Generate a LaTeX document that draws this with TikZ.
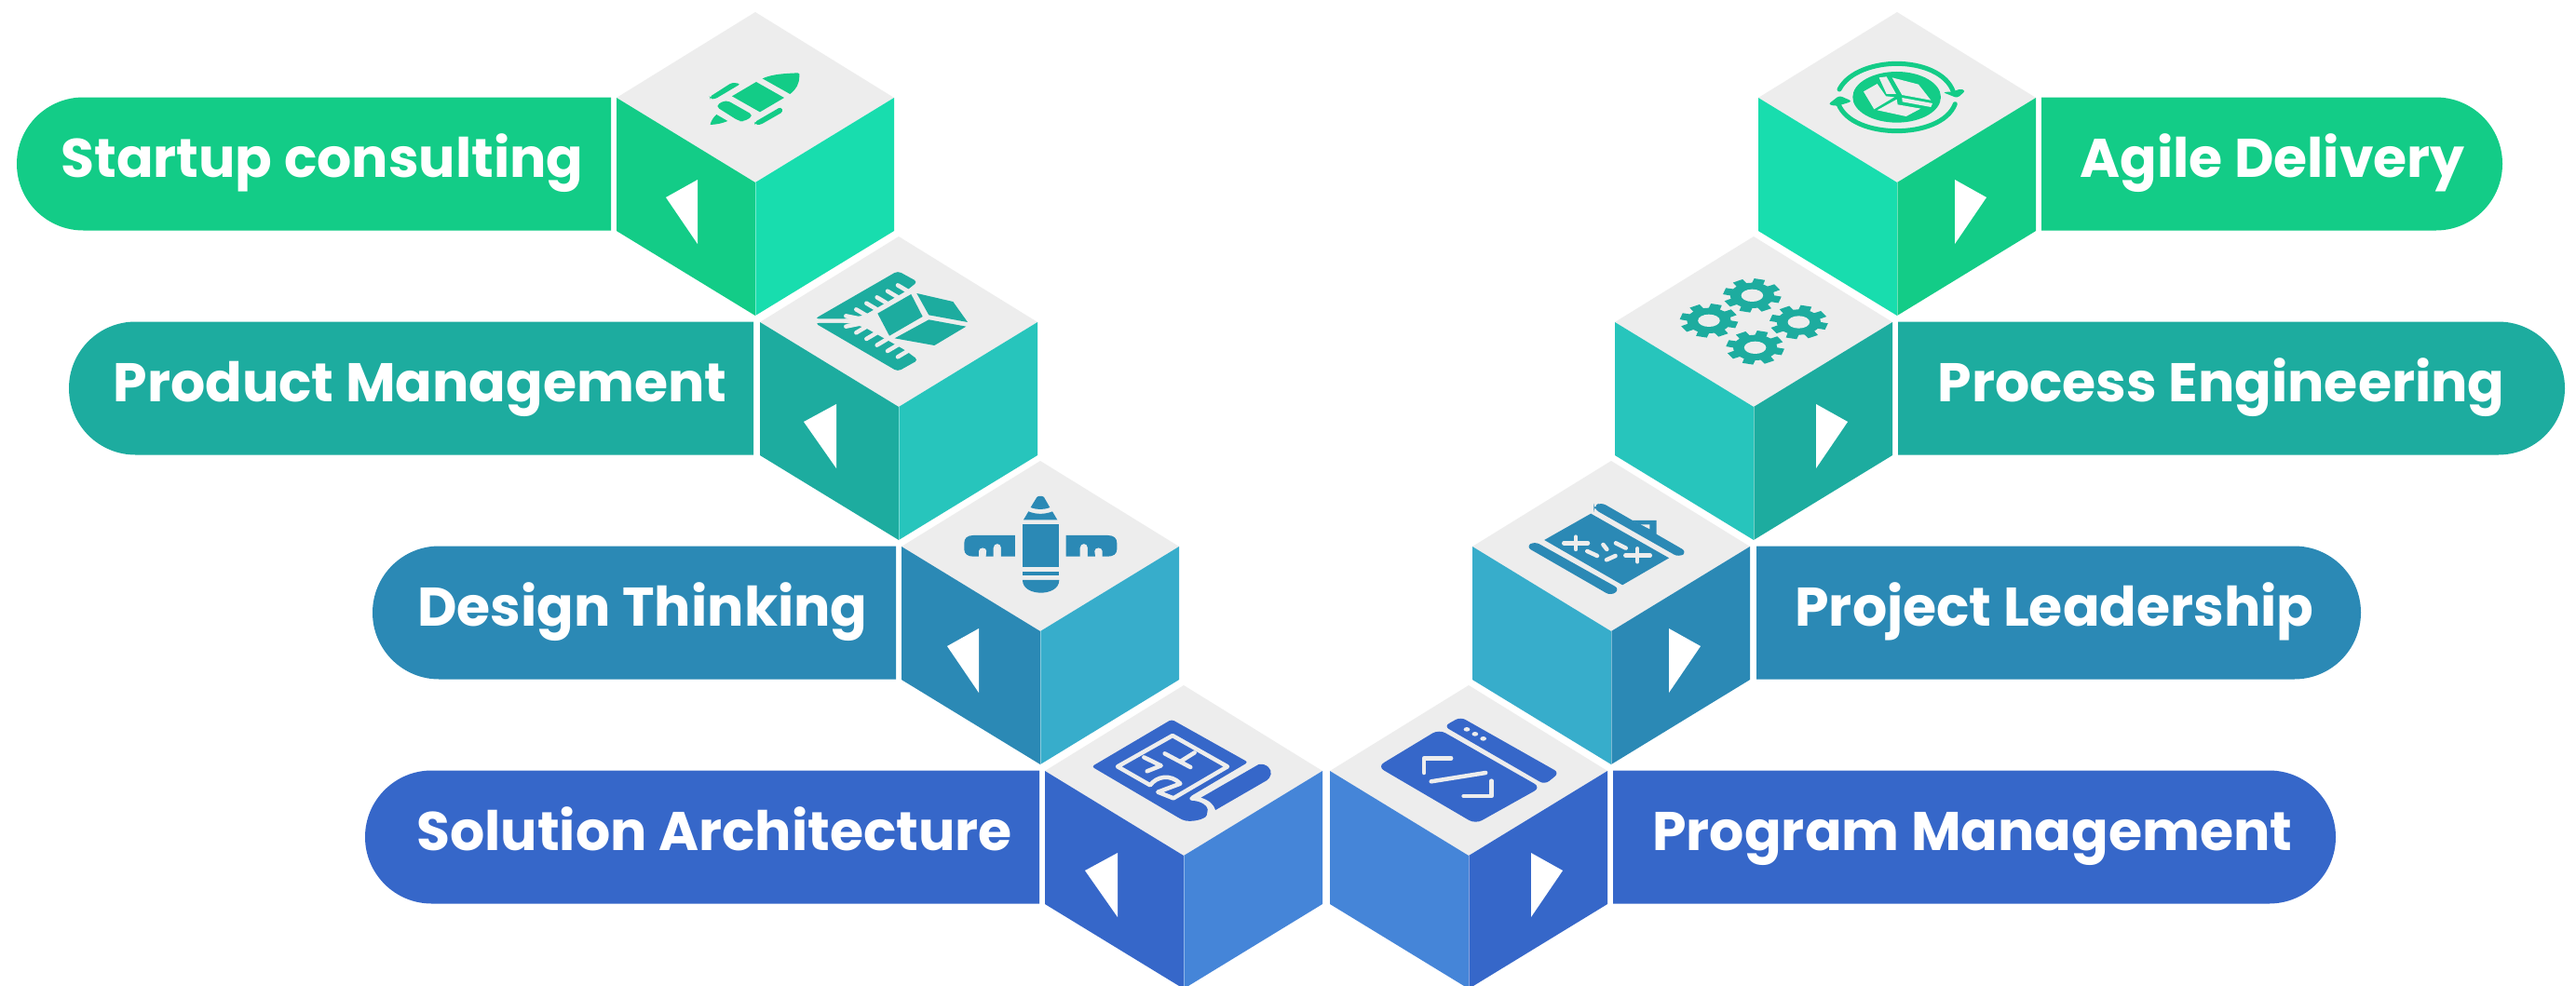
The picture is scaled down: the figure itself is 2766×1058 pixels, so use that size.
\documentclass[tikz,border=0pt]{standalone}
\usepackage{fontspec}
\setmainfont{Poppins}
\definecolor{gA}{HTML}{13CC87}\definecolor{gB}{HTML}{18DDAE}
\definecolor{tA}{HTML}{1DAC9F}\definecolor{tB}{HTML}{27C5BC}
\definecolor{cA}{HTML}{2B89B5}\definecolor{cB}{HTML}{37ADCB}
\definecolor{bA}{HTML}{3667C9}\definecolor{bB}{HTML}{4585D8}
\definecolor{topg}{HTML}{EDEDED}
\tikzset{
  lab/.style={font=\fontsize{58.5}{60}\selectfont\bfseries,text=white,anchor=base,inner sep=0pt},
  glyphline/.style={draw=topg,line width=4.5pt,line cap=round,line join=round},
  teeth/.style={draw=topg,line width=4.5pt,line cap=round},
}
% cx, top y, left face, right face, triangle inner x, triangle outer x (signed)
\newcommand{\isocube}[6]{%
  \fill[topg] (#1,#2) -- (#1+149,#2+92) -- (#1,#2+183) -- (#1-149,#2+92) -- cycle;
  \fill[#3] (#1-149,#2+92) -- (#1,#2+183) -- (#1,#2+326) -- (#1-149,#2+235) -- cycle;
  \fill[#4] (#1+149,#2+92) -- (#1,#2+183) -- (#1,#2+326) -- (#1+149,#2+235) -- cycle;
  \draw[white,opacity=.4,line width=.8pt] (#1,#2+183) -- (#1,#2+326);
  \fill[white] (#1#5,#2+180) -- (#1#6,#2+199) -- (#1#5,#2+249) -- cycle;
}
\newcommand{\pillL}[4]{% left x, right x, top y, colour
  \fill[#4] (#2,#3) -- (#1+71.5,#3) arc[start angle=270,end angle=90,radius=71.5] -- (#2,#3+143) -- cycle;
}
\newcommand{\pillR}[4]{%
  \fill[#4] (#1,#3) -- (#2-71.5,#3) arc[start angle=-90,end angle=90,radius=71.5] -- (#1,#3+143) -- cycle;
}
\newcommand{\geariso}[2]{%
  \begin{scope}[shift={(#1,#2)}]
    \fill[tA] (0,0) ellipse [x radius=66,y radius=41];
    \foreach \a in {15,60,...,330} {
      \fill[tA] (\a-17:60 and 37) -- (\a-11:88 and 55) -- (\a+11:88 and 55) -- (\a+17:60 and 37) -- cycle;
    }
    \fill[topg] (0,0) ellipse [x radius=33,y radius=20];
  \end{scope}
}
\begin{document}
\begin{tikzpicture}[x=1pt,y=-1pt]
\useasboundingbox (0,0) rectangle (2766,1058);
\clip (0,0) rectangle (2766,1058);
\fill[white] (0,0) rectangle (2766,1058);

% pills
\pillL{18}{656}{104.5}{gA}
\pillL{74}{809}{345.5}{tA}
\pillL{400}{962}{586.5}{cA}
\pillL{392}{1116}{827.5}{bA}
\pillR{2192}{2687}{104.5}{gA}
\pillR{2038}{2754}{345.5}{tA}
\pillR{1886}{2535}{586.5}{cA}
\pillR{1732}{2508}{827.5}{bA}

% cubes
\isocube{811}{13}{gA}{gB}{-62}{-96}
\isocube{965}{254}{tA}{tB}{-67}{-102}
\isocube{1117}{495}{cA}{cB}{-66}{-100}
\isocube{1271}{736}{bA}{bB}{-71}{-106}
\isocube{2037}{13}{gB}{gA}{+62}{+96}
\isocube{1883}{254}{tB}{tA}{+67}{+101}
\isocube{1730}{495}{cB}{cA}{+62}{+96}
\isocube{1577}{736}{bB}{bA}{+67}{+101}

% labels
\node[lab] (t1) at (346,190) {Startup consulting};
\node[lab] (t2) at (451,431) {Product Management};
\node[lab] (t3) at (690,672) {Design Thinking};
\node[lab] (t4) at (767,913) {Solution Architecture};
\node[lab] (t5) at (2118,913) {Program Management};
\node[lab] (t6) at (2206,672) {Project Leadership};
\node[lab] (t7) at (2385,431) {Process Engineering};
\node[lab] (t8) at (2440,190) {Agile Delivery};

% rocket
\begin{scope}[shift={(640,0)},x=.3333pt,y=-.3333pt]
  \fill[gA] (536,253) .. controls (570,238) and (610,237) .. (650,235) .. controls (656,236) and (656,240) .. (655,245) .. controls (655,270) and (645,288) .. (625,303) -- cycle;
  \fill[gA] (516,264) -- (606,315) -- (528,361) -- (438,310) -- cycle;
  \fill[gA,rounded corners=5pt] (418,321) -- (508,372) -- (476,392) -- (460,390) -- (384,342) -- cycle;
  \fill[gA] (388,369) -- (424,390) .. controls (405,398) and (388,401) .. (368,402) .. controls (370,390) and (378,378) .. (388,369) -- cycle;
  \fill[gA,rounded corners=3pt] (366,312) -- (438,266) -- (466,270) -- (382,320) -- (368,318) -- cycle;
  \fill[gA,rounded corners=3pt] (510,394) -- (596,344) -- (603,360) -- (528,403) -- (512,401) -- cycle;
\end{scope}

% ruler and box
\begin{scope}[shift={(860,280)},x=.3333pt,y=-.3333pt]
  \fill[tA,rounded corners=4pt] (45,187) -- (312,33) -- (376,68) -- (335,100) -- (205,175) -- (150,187) -- cycle;
  \fill[tA,rounded corners=4pt] (45,201) -- (150,201) -- (205,215) -- (335,288) -- (378,320) -- (312,357) -- cycle;
  \draw[teeth] (145,178) -- (205,190);
  \draw[teeth] (145,212) -- (205,200);
  \draw[teeth] (178,157) -- (210,176);
  \draw[teeth] (211,137) -- (243,156);
  \draw[teeth] (245,118) -- (277,137);
  \draw[teeth] (279,98) -- (311,117);
  \draw[teeth] (312,79) -- (344,98);
  \draw[teeth] (178,232) -- (210,213);
  \draw[teeth] (211,252) -- (243,233);
  \draw[teeth] (245,272) -- (277,253);
  \draw[teeth] (279,291) -- (311,272);
  \draw[teeth] (312,310) -- (344,291);
  \fill[topg] (205,180) -- (350,98) -- (410,180) -- (300,255) -- (205,210) -- cycle;
  \fill[tA] (247,170) -- (355,108) -- (392,180) -- (285,242) -- cycle;
  \fill[tA] (373,105) -- (490,132) -- (537,198) -- (412,175) -- cycle;
  \fill[tA] (302,250) -- (412,190) -- (532,212) -- (430,273) -- cycle;
\end{scope}

% pencil and ruler
\begin{scope}[shift={(920,480)},x=.3333pt,y=-.3333pt]
  \fill[cA] (560,195) -- (580,162) .. controls (585,157) and (598,157) .. (603,162) -- (622,195) .. controls (600,203) and (582,203) .. (560,195) -- cycle;
  \fill[cA] (553,208) .. controls (578,218) and (605,218) .. (630,208) -- (646,235) -- (537,235) -- cycle;
  \fill[cA] (533,248) rectangle (651,388);
  \fill[cA] (534,402) rectangle (652,415);
  \fill[cA] (534,429) -- (652,429) .. controls (652,458) and (620,470) .. (593,470) .. controls (566,470) and (534,458) .. (534,429) -- cycle;
  \fill[cA] (510,285) -- (375,285) .. controls (355,285) and (346,295) .. (346,310) -- (346,330) .. controls (346,345) and (358,353) .. (375,353) -- (393,353) -- (393,335) .. controls (393,322) and (418,322) .. (418,335) -- (416,353) -- (440,353) -- (440,325) .. controls (440,308) and (465,308) .. (465,325) -- (465,353) -- (510,353) -- cycle;
  \fill[cA] (674,285) -- (809,285) .. controls (829,285) and (838,295) .. (838,310) -- (838,330) .. controls (838,345) and (826,353) .. (809,353) -- (791,353) -- (791,335) .. controls (791,322) and (766,322) .. (766,335) -- (768,353) -- (744,353) -- (744,325) .. controls (744,308) and (719,308) .. (719,325) -- (719,353) -- (674,353) -- cycle;
\end{scope}

% blueprint and window
\begin{scope}[shift={(1080,720)},x=.4209pt,y=-.3333pt]
  \fill[bA,rounded corners=3pt] (219,310) -- (423,158) -- (618,296) -- (468,408) -- (468,420) .. controls (500,420) and (516,440) .. (514,458) .. controls (510,480) and (470,492) .. (445,478) -- cycle;
  \fill[bA] (645,303) .. controls (665,298) and (680,320) .. (676,335) .. controls (675,345) and (670,350) .. (665,355) -- (535,450) .. controls (530,430) and (518,418) .. (498,410) -- cycle;
  % window
  \fill[bA,rounded corners=6pt] (1118,180) -- (1160,150) -- (1412,330) -- (1375,368) -- cycle;
  \fill[bA,rounded corners=8pt] (1105,190) -- (1365,377) -- (1198,495) -- (948,310) -- cycle;
  \fill[topg] (1176,190) ellipse [x radius=8,y radius=7];
  \fill[topg] (1197,205) ellipse [x radius=8,y radius=7];
  \fill[topg] (1218,220) ellipse [x radius=8,y radius=7];
  \draw[glyphline] (1067,330) -- (1067,283) -- (1136,283);
  \draw[glyphline] (1085,358) -- (1224,330);
  \draw[glyphline] (1239,356) -- (1239,405) -- (1168,405);
\end{scope}

% blueprint maze
\begin{scope}[shift={(1160,760)},x=.3333pt,y=-.3333pt]
  \draw[glyphline] (297,90) -- (120,190) -- (225,250) .. controls (245,222) and (290,212) .. (322,245) -- (250,272) -- (300,292) -- (474,190) -- cycle;
  \draw[glyphline] (272,148) -- (355,192);
  \draw[glyphline] (325,172) -- (368,145);
  \draw[glyphline] (205,160) -- (260,187) -- (215,205);
\end{scope}

% cycle with box
\begin{scope}[shift={(1860,0)},x=.3333pt,y=-.3333pt]
  \fill[gA] (530,313) ellipse [x radius=142,y radius=82];
  \draw[gA,line width=5pt,line cap=round] (345,288) .. controls (375,230) and (460,205) .. (530,205) .. controls (610,205) and (690,235) .. (712,295);
  \draw[gA,line width=5pt,line cap=round] (718,335) .. controls (695,395) and (610,422) .. (530,422) .. controls (450,422) and (365,395) .. (342,335);
  \fill[gA,rounded corners=3pt] (678,297) -- (725,316) -- (752,292) -- (732,286) -- (715,295) -- cycle;
  \fill[gA,rounded corners=3pt] (309,336) -- (345,308) -- (386,326) -- (370,332) -- (335,342) -- cycle;
  \fill[topg] (423,295) -- (467,270) -- (495,310) -- (522,313) -- (457,352) -- cycle;
  \fill[topg] (473,250) -- (497,247) -- (528,303) -- (497,303) -- cycle;
  \fill[topg] (515,250) -- (600,272) -- (640,323) -- (547,306) -- cycle;
  \fill[topg] (547,315) -- (645,333) -- (640,345) -- (548,328) -- cycle;
  \fill[topg] (530,320) -- (467,355) -- (560,375) -- (607,350) -- (533,337) -- cycle;
\end{scope}

% gears and calculator
\begin{scope}[shift={(1560,260)},x=.3571pt,y=-.3333pt]
  \geariso{900}{172}
  \geariso{770}{253}
  \geariso{1040}{258}
  \geariso{909}{340}
  \fill[cA,rounded corners=6pt] (424,852) -- (445,838) -- (704,998) -- (680,1016) -- (424,860) -- cycle;
  \fill[cA] (540,897) -- (612,897) -- (612,945) -- cycle;
  \fill[topg] (565,910) -- (592,910) -- (592,925) -- cycle;
  \fill[cA] (275,960) -- (415,875) -- (650,1018) -- (510,1105) -- cycle;
  \fill[cA,rounded corners=6pt] (220,982) -- (245,964) -- (502,1118) -- (476,1140) -- cycle;
  \draw[glyphline] (334,970) -- (406,970);
  \draw[glyphline] (370,950) -- (370,990);
  \draw[glyphline] (404,996) -- (434,1011);
  \draw[glyphline] (452,975) -- (463,990);
  \draw[glyphline] (490,970) -- (520,986);
  \draw[glyphline] (462,1024) -- (489,1011);
  \draw[glyphline] (519,1010) -- (593,1010);
  \draw[glyphline] (555,988) -- (555,1030);
\end{scope}
\end{tikzpicture}
\end{document}
